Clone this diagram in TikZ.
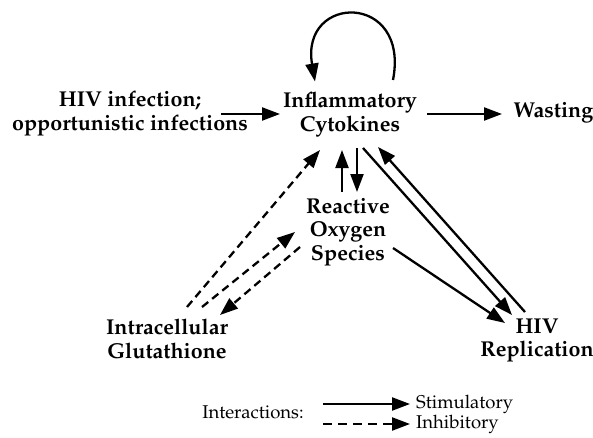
\documentclass[tikz,border=0pt]{standalone}
\usepackage[T1]{fontenc}
\usepackage{mathpazo}
\usetikzlibrary{arrows.meta,calc}
\tikzset{
  lbl/.style={font=\fontsize{21.5}{23.5}\selectfont\bfseries, align=center, inner sep=0pt},
  leg/.style={font=\fontsize{18.5}{20}\selectfont, inner sep=0pt},
  arr/.style={line width=2.3pt, -{Triangle[length=18pt,width=13pt]}},
  darr/.style={arr, dash pattern=on 8pt off 5pt},
}
\begin{document}
\begin{tikzpicture}[x=1pt,y=1pt]
\useasboundingbox (0,0) rectangle (593,437);
\node[lbl] (infl) at (350,322.5) {Inflammatory\\Cytokines};
\node[lbl] (hiv) at (130,323.5) {HIV infection;\\opportunistic infections};
\node[lbl] (wast) at (553.5,324) {Wasting};
\node[lbl] (ros) at (348,205) {Reactive\\Oxygen\\Species};
\node[lbl] (glut) at (167,98) {Intracellular\\Glutathione};
\node[lbl] (hivr) at (537,96.5) {HIV\\Replication};
% connectors
\draw[arr] ($(hiv)+(91,-0.5)$) -- ($(infl)+(-70,0.5)$);
\draw[arr] ($(infl)+(77,0.5)$) -- ($(wast)+(-51.5,-1)$);
\draw[arr] ($(infl)+(43,34.5)$) .. controls +(17,88) and +(-15,88) .. ($(infl)+(-35,33)$);
\draw[arr] ($(ros)+(-6,40)$) -- ($(infl)+(-8,-35.5)$);
\draw[arr] ($(infl)+(7,-33.5)$) -- ($(ros)+(9,40)$);
\draw[arr] ($(infl)+(13,-33.5)$) -- ($(hivr)+(-25,25.5)$);
\draw[arr] ($(hivr)+(-12,28.5)$) -- ($(infl)+(28,-32.5)$);
\draw[arr] ($(ros)+(45,-16)$) -- ($(hivr)+(-32,17.5)$);
\draw[darr] ($(glut)+(20,32)$) -- ($(infl)+(-30,-35.5)$);
\draw[darr] ($(glut)+(35,32)$) -- ($(ros)+(-53,0)$);
\draw[darr] ($(ros)+(-48,-15)$) -- ($(glut)+(53,24)$);
% legend
\node[leg] (legt) at (253,25) {Interactions:};
\node[leg, anchor=west] (stim) at (416,33) {Stimulatory};
\node[leg, anchor=west] (inh) at (416,13) {Inhibitory};
\draw[arr] ($(stim.west)+(-93,0)$) -- ($(stim.west)+(-6,0)$);
\draw[arr, dash pattern=on 9pt off 6pt] ($(inh.west)+(-93,0)$) -- ($(inh.west)+(-6,0)$);
\end{tikzpicture}
\end{document}
